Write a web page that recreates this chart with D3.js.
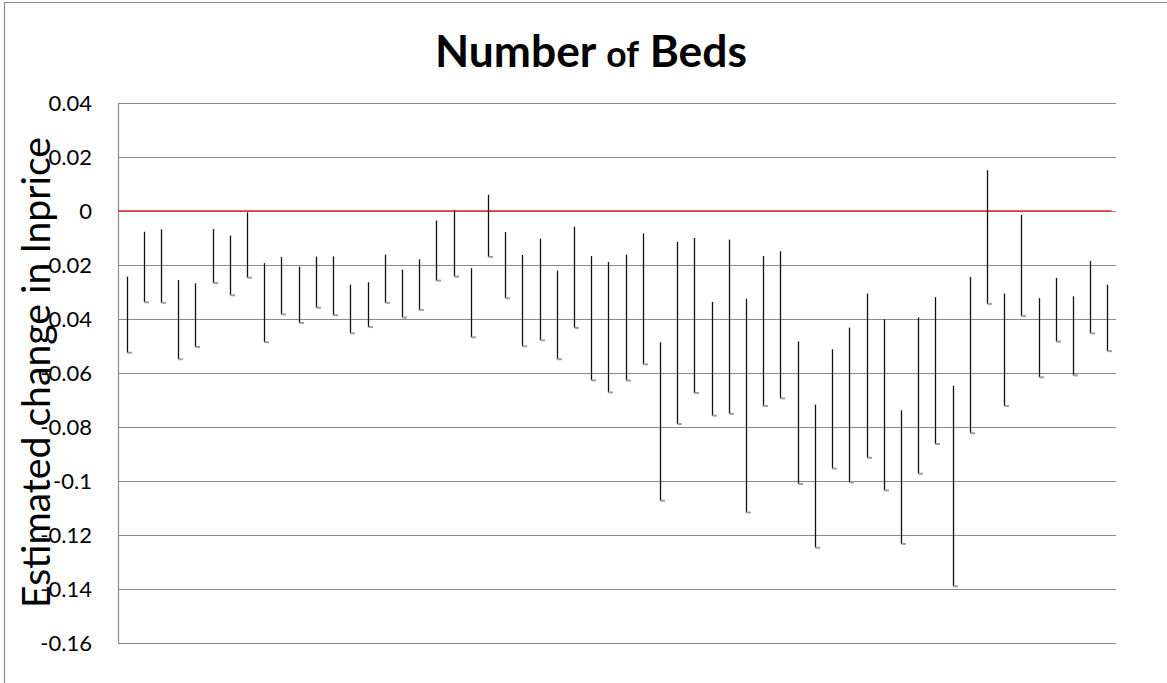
<!DOCTYPE html>
<html>
<head>
<meta charset="utf-8">
<script src="https://cdn.jsdelivr.net/npm/d3@7"></script>
<style>
  html, body { margin: 0; padding: 0; background: #fff; }
  svg { display: block; }
  text { font-family: Lato, "Open Sans", sans-serif; }
</style>
</head>
<body>
<svg id="chart" width="1167" height="683"></svg>
<script>
// Upper and lower ends of each estimate's range, one per group (58 groups)
const highs = [
  -0.0243, -0.0077, -0.0068, -0.0256, -0.0268, -0.0067, -0.0091, -0.0005, -0.0193, -0.0170,
  -0.0206, -0.0169, -0.0168, -0.0273, -0.0264, -0.0162, -0.0217, -0.0179, -0.0035,  0.0003,
  -0.0212,  0.0060, -0.0078, -0.0163, -0.0102, -0.0221, -0.0058, -0.0167, -0.0189, -0.0162,
  -0.0083, -0.0486, -0.0114, -0.0100, -0.0337, -0.0106, -0.0325, -0.0167, -0.0149, -0.0483,
  -0.0717, -0.0512, -0.0432, -0.0306, -0.0401, -0.0738, -0.0394, -0.0319, -0.0647, -0.0244,
   0.0151, -0.0306, -0.0015, -0.0323, -0.0248, -0.0316, -0.0185, -0.0273
];
const lows = [
  -0.0525, -0.0338, -0.0340, -0.0549, -0.0504, -0.0267, -0.0312, -0.0247, -0.0486, -0.0383,
  -0.0415, -0.0358, -0.0386, -0.0453, -0.0430, -0.0340, -0.0395, -0.0367, -0.0258, -0.0243,
  -0.0468, -0.0170, -0.0323, -0.0501, -0.0479, -0.0549, -0.0433, -0.0627, -0.0672, -0.0628,
  -0.0568, -0.1073, -0.0789, -0.0674, -0.0758, -0.0751, -0.1117, -0.0722, -0.0694, -0.1011,
  -0.1247, -0.0954, -0.1005, -0.0914, -0.1035, -0.1233, -0.0973, -0.0863, -0.1390, -0.0823,
  -0.0344, -0.0722, -0.0389, -0.0616, -0.0484, -0.0609, -0.0453, -0.0519
];
const categories = highs.map((_, i) => i + 1);
const yTicks = [-0.16, -0.14, -0.12, -0.1, -0.08, -0.06, -0.04, -0.02, 0, 0.02, 0.04];
const yTickLabels = ["-0.16", "-0.14", "-0.12", "-0.1", "-0.08", "-0.06", "-0.04", "-0.02", "0", "0.02", "0.04"];
const referenceValue = 0;

const svg = d3.select("#chart");
const plot = { left: 118, right: 1116, top: 103, bottom: 643 };

const x = d3.scaleBand().domain(categories).range([plot.left, plot.right]).padding(0);
const y = d3.scaleLinear().domain([-0.16, 0.04]).range([plot.bottom, plot.top]);
const cx = d => Math.round(x(d) + x.bandwidth() / 2) + 0.5;

// outer chart frame (top and left edges)
svg.append("path")
  .attr("d", "M4.5,683 V2.5 H1167")
  .attr("fill", "none").attr("stroke", "#8c8c8c").attr("stroke-width", 1.2);

// horizontal gridlines
svg.append("g").selectAll("line").data(yTicks).join("line")
  .attr("x1", plot.left).attr("x2", plot.right)
  .attr("y1", d => Math.round(y(d)) + 0.5).attr("y2", d => Math.round(y(d)) + 0.5)
  .attr("stroke", "#8a8a8a").attr("stroke-width", 1.1);

// value axis
const yAxis = d3.axisLeft(y)
  .tickValues(yTicks)
  .tickFormat((d, i) => yTickLabels[i])
  .tickSize(0)
  .tickPadding(26);
const gy = svg.append("g").attr("transform", `translate(${plot.left},0)`).call(yAxis);
gy.select(".domain").attr("stroke", "#8a8a8a").attr("stroke-width", 1.2);
gy.selectAll("text").attr("font-size", 22).attr("fill", "#000")
  .attr("font-family", "Lato, sans-serif").attr("dy", "0.35em");

// zero reference line
svg.append("line")
  .attr("x1", plot.left).attr("x2", cx(categories[categories.length - 1]) + 4)
  .attr("y1", y(referenceValue)).attr("y2", y(referenceValue))
  .attr("stroke", "#e8262b").attr("stroke-width", 1.6);

// high-low ranges
const ranges = categories.map((c, i) => ({ c, hi: highs[i], lo: lows[i] }));
svg.append("g").selectAll("line").data(ranges).join("line")
  .attr("x1", d => cx(d.c)).attr("x2", d => cx(d.c))
  .attr("y1", d => y(d.hi)).attr("y2", d => y(d.lo))
  .attr("stroke", "#111").attr("stroke-width", 1.3);

// close markers at the lower end
svg.append("g").selectAll("line").data(ranges).join("line")
  .attr("x1", d => cx(d.c)).attr("x2", d => cx(d.c) + 4.5)
  .attr("y1", d => y(d.lo)).attr("y2", d => y(d.lo))
  .attr("stroke", "#a0a0a0").attr("stroke-width", 2);

// title
const title = svg.append("text")
  .attr("x", 591).attr("y", 67)
  .attr("text-anchor", "middle")
  .attr("font-weight", "bold")
  .attr("font-size", 40)
  .attr("fill", "#000");
title.append("tspan").text("Number ");
title.append("tspan").attr("font-size", "0.8em").text("of");
title.append("tspan").text(" Beds");
{
  const w = title.node().getComputedTextLength();
  title.attr("font-size", 40 * 312 / w);
}

// value axis title
const yTitle = svg.append("text")
  .attr("transform", "translate(50,372.5) rotate(-90)")
  .attr("text-anchor", "middle")
  .attr("font-size", 40)
  .attr("fill", "#000")
  .text("Estimated change in lnprice");
{
  const w = yTitle.node().getComputedTextLength();
  yTitle.attr("font-size", 40 * 471 / w);
}
</script>
</body>
</html>
